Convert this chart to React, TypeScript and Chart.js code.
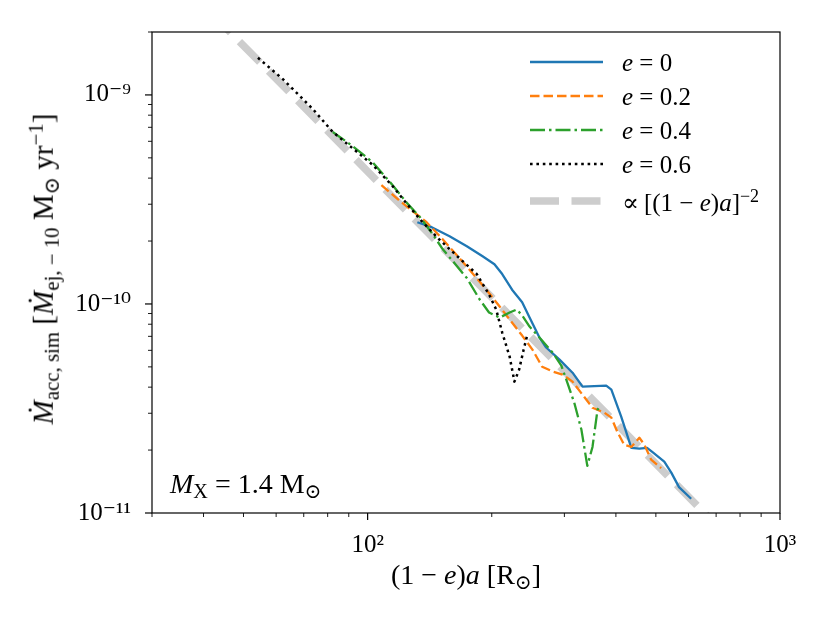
import React, { useEffect, useRef } from "react";
import { Chart, registerables } from "chart.js";

Chart.register(...registerables);

// ---- data ----
const E0_X = [132, 143, 158, 174, 190, 203, 212, 224, 237, 247, 261, 271, 292, 314, 332, 379, 390, 412, 436, 456, 476, 490, 524, 545, 569, 609];
const E0_Y = [2.46e-10, 2.33e-10, 2.11e-10, 1.89e-10, 1.69e-10, 1.55e-10, 1.39e-10, 1.17e-10, 1.02e-10, 8.61e-11, 6.91e-11, 6.19e-11, 5.42e-11, 4.69e-11, 4.02e-11, 4.07e-11, 3.89e-11, 2.89e-11, 2.05e-11, 2.03e-11, 2.05e-11, 1.96e-11, 1.76e-11, 1.56e-11, 1.33e-11, 1.17e-11];

const E02_X = [108, 120, 139, 152, 174, 194, 209, 221, 237, 251, 265, 281, 297, 314, 332, 351, 375, 390, 403, 419, 436, 456, 469, 487, 515];
const E02_Y = [3.7e-10, 3.1e-10, 2.46e-10, 2.04e-10, 1.51e-10, 1.17e-10, 9.73e-11, 8.42e-11, 7.06e-11, 6.05e-11, 5.01e-11, 4.75e-11, 4.59e-11, 4.25e-11, 3.68e-11, 3.19e-11, 3.02e-11, 2.86e-11, 2.45e-11, 2.12e-11, 2.07e-11, 2.29e-11, 2.12e-11, 1.8e-11, 1.64e-11];

const E04_X = [82.3, 92, 103, 115, 124, 134, 144, 152, 161, 174, 187, 197, 209, 221, 230, 237, 247, 261, 281, 295, 305, 317, 330, 341, 351, 361, 367];
const E04_Y = [6.65e-10, 5.69e-10, 4.75e-10, 3.7e-10, 3.07e-10, 2.6e-10, 2.15e-10, 1.83e-10, 1.6e-10, 1.33e-10, 1.05e-10, 9.1e-11, 8.61e-11, 9.1e-11, 9.41e-11, 8.81e-11, 7.8e-11, 6.91e-11, 5.85e-11, 5.07e-11, 4.2e-11, 3.37e-11, 2.5e-11, 1.68e-11, 2.07e-11, 3.12e-11, 3.26e-11];

const E06_X = [54.2, 62.3, 73.6, 82.3, 92, 103, 115, 126, 136, 149, 164, 184, 197, 205, 212, 221, 227, 233, 239, 244];
const E06_Y = [1.505e-9, 1.19e-9, 8.57e-10, 6.65e-10, 5.55e-10, 4.62e-10, 3.66e-10, 2.93e-10, 2.46e-10, 2.04e-10, 1.71e-10, 1.39e-10, 1.11e-10, 9.41e-11, 7.3e-11, 5.6e-11, 4.25e-11, 4.85e-11, 6.05e-11, 7.14e-11];

const GUIDE_X = [30, 1000];
const GUIDE_Y = [4.78e-9, 4.3e-12];

const X_TICK_VALUES = [30, 40, 50, 60, 70, 80, 90, 100, 200, 300, 400, 500, 600, 700, 800, 900, 1000];
const X_MAJOR = [100, 1000];
const X_MAJOR_LABELS = ["10²", "10³"];

const Y_TICK_VALUES = [
  1e-11, 2e-11, 3e-11, 4e-11, 5e-11, 6e-11, 7e-11, 8e-11, 9e-11,
  1e-10, 2e-10, 3e-10, 4e-10, 5e-10, 6e-10, 7e-10, 8e-10, 9e-10,
  1e-9, 2e-9,
];
const Y_MAJOR = [1e-11, 1e-10, 1e-9];
const Y_MAJOR_LABELS = ["10⁻¹¹", "10⁻¹⁰", "10⁻⁹"];

const SERIF = "'Liberation Serif', 'DejaVu Serif', serif";

const pts = (xs: number[], ys: number[]) => xs.map((x, i) => ({ x, y: ys[i] }));

const frameTicks = {
  id: "frameTicks",
  afterDatasetsDraw(chart: any) {
    const { ctx, chartArea: a, scales } = chart;
    ctx.save();
    ctx.strokeStyle = "#000";
    ctx.lineWidth = 1.2;
    ctx.strokeRect(a.left, a.top, a.right - a.left, a.bottom - a.top);
    for (const v of X_TICK_VALUES) {
      const px = scales.x.getPixelForValue(v);
      const major = X_MAJOR.includes(v);
      ctx.lineWidth = major ? 1.2 : 0.9;
      ctx.beginPath();
      ctx.moveTo(px, a.bottom);
      ctx.lineTo(px, a.bottom + (major ? 7 : 4));
      ctx.stroke();
    }
    for (const v of Y_TICK_VALUES) {
      const py = scales.y.getPixelForValue(v);
      const major = Y_MAJOR.includes(v);
      ctx.lineWidth = major ? 1.2 : 0.9;
      ctx.beginPath();
      ctx.moveTo(a.left, py);
      ctx.lineTo(a.left - (major ? 7 : 4), py);
      ctx.stroke();
    }
    ctx.restore();
  },
};

const LW = 2.3;

export default function App() {
  const ref = useRef<HTMLCanvasElement | null>(null);

  useEffect(() => {
    if (!ref.current) return;
    const chart = new Chart(ref.current, {
      type: "line",
      data: {
        datasets: [
          {
            label: "guide",
            data: pts(GUIDE_X, GUIDE_Y),
            borderColor: "#cdcdcd",
            borderWidth: 7.5,
            borderDash: [29, 12.5],
            borderCapStyle: "butt",
            pointRadius: 0,
            order: 5,
            clip: 0,
          },
          {
            label: "e=0",
            data: pts(E0_X, E0_Y),
            borderColor: "#1f77b4",
            borderWidth: LW,
            borderJoinStyle: "round",
            pointRadius: 0,
            order: 4,
            clip: 0,
          },
          {
            label: "e=0.2",
            data: pts(E02_X, E02_Y),
            borderColor: "#ff7f0e",
            borderWidth: LW,
            borderDash: [9.5, 4],
            borderJoinStyle: "round",
            pointRadius: 0,
            order: 3,
            clip: 0,
          },
          {
            label: "e=0.4",
            data: pts(E04_X, E04_Y),
            borderColor: "#2ca02c",
            borderWidth: LW,
            borderDash: [15, 4, 2.5, 4],
            borderJoinStyle: "round",
            pointRadius: 0,
            order: 2,
            clip: 0,
          },
          {
            label: "e=0.6",
            data: pts(E06_X, E06_Y),
            borderColor: "#000000",
            borderWidth: 2.5,
            borderDash: [2.6, 3.8],
            borderJoinStyle: "round",
            pointRadius: 0,
            order: 1,
            clip: 0,
          },
        ],
      },
      options: {
        responsive: false,
        animation: false,
        events: [],
        layout: { padding: { top: 32, right: 50, left: 0, bottom: 0 } },
        plugins: { legend: { display: false }, tooltip: { enabled: false } },
        elements: { line: { tension: 0 } },
        scales: {
          x: {
            type: "logarithmic",
            min: 30,
            max: 1000,
            grid: { display: false },
            border: { display: false },
            afterBuildTicks: (s: any) => {
              s.ticks = X_TICK_VALUES.map((v) => ({ value: v }));
            },
            afterFit: (s: any) => {
              s.height = 110;
            },
            ticks: {
              autoSkip: false,
              maxRotation: 0,
              minRotation: 0,
              padding: 9,
              color: "#000",
              font: { family: SERIF, size: 25 },
              callback: (v: any) => {
                const i = X_MAJOR.indexOf(Number(v));
                return i >= 0 ? X_MAJOR_LABELS[i] : "";
              },
            },
          },
          y: {
            type: "logarithmic",
            min: 1e-11,
            max: 2e-9,
            grid: { display: false },
            border: { display: false },
            afterBuildTicks: (s: any) => {
              s.ticks = Y_TICK_VALUES.map((v) => ({ value: v }));
            },
            afterFit: (s: any) => {
              s.width = 152;
            },
            ticks: {
              autoSkip: false,
              padding: 13,
              color: "#000",
              font: { family: SERIF, size: 25 },
              callback: (v: any) => {
                const i = Y_MAJOR.indexOf(Number(v));
                return i >= 0 ? Y_MAJOR_LABELS[i] : "";
              },
            },
          },
        },
      } as any,
      plugins: [frameTicks],
    });
    return () => chart.destroy();
  }, []);

  const txt: React.CSSProperties = {
    position: "absolute",
    fontFamily: SERIF,
    fontSize: 25,
    color: "#000",
    whiteSpace: "nowrap",
    lineHeight: 1,
  };
  const big: React.CSSProperties = { ...txt, fontSize: 28 };
  const sub: React.CSSProperties = { fontSize: "0.72em", verticalAlign: "-0.25em" };
  const sup: React.CSSProperties = { fontSize: "0.72em", verticalAlign: "0.5em" };

  const legendRows = [
    { y: 62, dash: "", color: "#1f77b4", w: LW, label: <><i>e</i> = 0</> },
    { y: 95.5, dash: "9.5 4", color: "#ff7f0e", w: LW, label: <><i>e</i> = 0.2</> },
    { y: 129.5, dash: "15 4 2.5 4", color: "#2ca02c", w: LW, label: <><i>e</i> = 0.4</> },
    { y: 163.5, dash: "2.6 3.8", color: "#000", w: 2.5, label: <><i>e</i> = 0.6</> },
    {
      y: 200.5,
      dash: "29 12.5",
      color: "#cdcdcd",
      w: 7.5,
      label: (
        <>
          ∝&thinsp;[(1 − <i>e</i>)<i>a</i>]<span style={sup}>−2</span>
        </>
      ),
    },
  ];

  return (
    <div style={{ position: "absolute", left: 0, top: 0, width: 830, height: 623, background: "#fff" }}>
      <canvas ref={ref} width={830} height={623} style={{ position: "absolute", left: 0, top: 0 }} />

      {/* y-axis title */}
      <div
        style={{
          ...big,
          fontSize: 29,
          left: 44,
          top: 269,
          transform: "translate(-50%, -50%) rotate(-90deg)",
        }}
      >
        <i>Ṁ</i>
        <span style={sub}>acc, sim</span> [<i>Ṁ</i>
        <span style={sub}>ej, − 10</span> M<span style={sub}>⊙</span> yr<span style={sup}>−1</span>]
      </div>

      {/* x-axis title */}
      <div style={{ ...big, left: 466, top: 577, transform: "translate(-50%, -50%)" }}>
        (1 − <i>e</i>)<i>a</i> [R<span style={sub}>⊙</span>]
      </div>

      {/* annotation */}
      <div style={{ ...big, left: 170, top: 486, transform: "translate(0, -50%)" }}>
        <i>M</i>
        <span style={sub}>X</span> = 1.4 M<span style={sub}>⊙</span>
      </div>

      {/* legend */}
      {legendRows.map((r, i) => (
        <React.Fragment key={i}>
          <svg
            width={74}
            height={12}
            style={{ position: "absolute", left: 530, top: r.y - 6 }}
          >
            <line
              x1={0}
              y1={6}
              x2={73}
              y2={6}
              stroke={r.color}
              strokeWidth={r.w}
              strokeDasharray={r.dash || undefined}
            />
          </svg>
          <div style={{ ...txt, left: 622, top: r.y, transform: "translate(0, -50%)" }}>{r.label}</div>
        </React.Fragment>
      ))}
    </div>
  );
}
